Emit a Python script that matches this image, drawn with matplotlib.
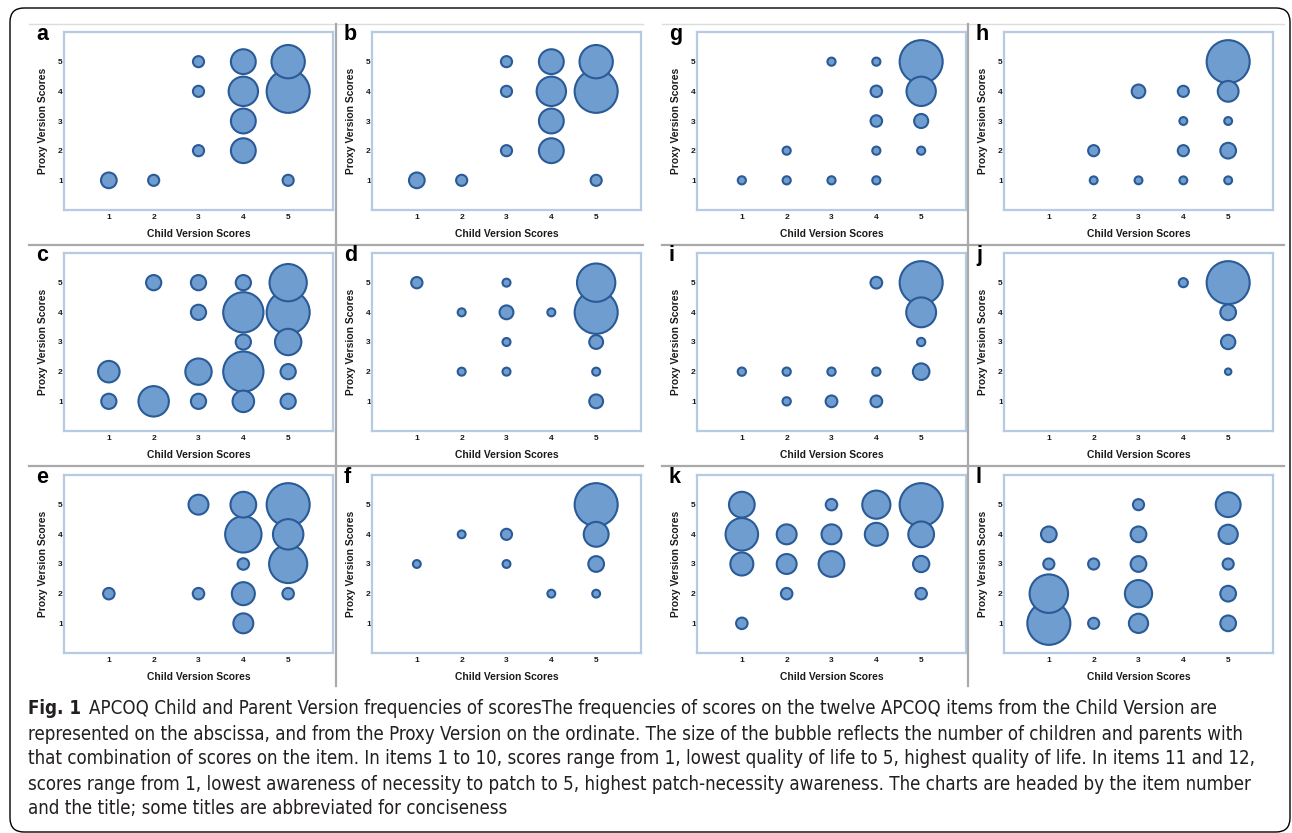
import numpy as np
import matplotlib.pyplot as plt
from matplotlib import font_manager as fm
from matplotlib.patches import FancyBboxPatch
from matplotlib.lines import Line2D
from matplotlib.transforms import IdentityTransform

# bubble data: child score (x), proxy score (y), number of pairs
child_a = [1, 2, 3, 3, 3, 4, 4, 4, 4, 5, 5, 5]
proxy_a = [1, 1, 2, 4, 5, 2, 3, 4, 5, 1, 4, 5]
count_a = [2, 1, 1, 1, 1, 5, 5, 7, 5, 1, 15, 9]

child_b = [1, 2, 3, 3, 3, 4, 4, 4, 4, 5, 5, 5]
proxy_b = [1, 1, 2, 4, 5, 2, 3, 4, 5, 1, 4, 5]
count_b = [2, 1, 1, 1, 1, 5, 5, 7, 5, 1, 15, 9]

child_c = [1, 1, 2, 2, 3, 3, 3, 3, 4, 4, 4, 4, 4, 5, 5, 5, 5, 5]
proxy_c = [1, 2, 1, 5, 1, 2, 4, 5, 1, 2, 3, 4, 5, 1, 2, 3, 4, 5]
count_c = [1, 2, 4, 1, 1, 3, 1, 1, 2, 7, 1, 7, 1, 1, 1, 3, 8, 6]

child_d = [1, 2, 2, 3, 3, 3, 3, 4, 5, 5, 5, 5, 5]
proxy_d = [5, 2, 4, 2, 3, 4, 5, 4, 1, 2, 3, 4, 5]
count_d = [2, 1, 1, 1, 1, 3, 1, 1, 3, 1, 3, 29, 23]

child_e = [1, 3, 3, 4, 4, 4, 4, 4, 5, 5, 5, 5]
proxy_e = [2, 2, 5, 1, 2, 3, 4, 5, 2, 3, 4, 5]
count_e = [1, 1, 3, 3, 4, 1, 10, 5, 1, 11, 7, 14]

child_f = [1, 2, 3, 3, 4, 5, 5, 5, 5]
proxy_f = [3, 4, 3, 4, 2, 2, 3, 4, 5]
count_f = [1, 1, 1, 2, 1, 1, 4, 10, 30]

child_g = [1, 2, 2, 3, 3, 4, 4, 4, 4, 4, 5, 5, 5, 5]
proxy_g = [1, 1, 2, 1, 5, 1, 2, 3, 4, 5, 2, 3, 4, 5]
count_g = [1, 1, 1, 1, 1, 1, 1, 2, 2, 1, 1, 3, 13, 28]

child_h = [2, 2, 3, 3, 4, 4, 4, 4, 5, 5, 5, 5, 5]
proxy_h = [1, 2, 1, 4, 1, 2, 3, 4, 1, 2, 3, 4, 5]
count_h = [1, 2, 1, 3, 1, 2, 1, 2, 1, 4, 1, 7, 30]

child_i = [1, 2, 2, 3, 3, 4, 4, 4, 5, 5, 5, 5]
proxy_i = [2, 1, 2, 1, 2, 1, 2, 5, 2, 3, 4, 5]
count_i = [1, 1, 1, 2, 1, 2, 1, 2, 4, 1, 13, 27]

child_j = [4, 5, 5, 5, 5]
proxy_j = [5, 2, 3, 4, 5]
count_j = [2, 1, 5, 6, 45]

child_k = [1, 1, 1, 1, 2, 2, 2, 3, 3, 3, 4, 4, 5, 5, 5, 5]
proxy_k = [1, 3, 4, 5, 2, 3, 4, 3, 4, 5, 4, 5, 2, 3, 4, 5]
count_k = [1, 4, 8, 5, 1, 3, 3, 5, 3, 1, 4, 6, 1, 2, 5, 14]

child_l = [1, 1, 1, 1, 2, 2, 3, 3, 3, 3, 3, 5, 5, 5, 5, 5]
proxy_l = [1, 2, 3, 4, 1, 3, 1, 2, 3, 4, 5, 1, 2, 3, 4, 5]
count_l = [15, 12, 1, 2, 1, 1, 3, 6, 2, 2, 1, 2, 2, 1, 3, 5]

ticks = [1, 2, 3, 4, 5]

caption_lines = [
    "APCOQ Child and Parent Version frequencies of scoresThe frequencies of scores on the twelve APCOQ items from the Child Version are",
    "represented on the abscissa, and from the Proxy Version on the ordinate. The size of the bubble reflects the number of children and parents with",
    "that combination of scores on the item. In items 1 to 10, scores range from 1, lowest quality of life to 5, highest quality of life. In items 11 and 12,",
    "scores range from 1, lowest awareness of necessity to patch to 5, highest patch-necessity awareness. The charts are headed by the item number",
    "and the title; some titles are abbreviated for conciseness",
]

W, H = 1292, 833
FILL = '#6f9dd0'
EDGE = '#2a5b97'
FRAME = '#b6cae3'
SEP = '#a9a9a9'
SMAX = 960.0  # marker area (pt^2) of the biggest bubble in each chart

plt.rcParams['font.family'] = ['Liberation Sans', 'DejaVu Sans']


def narrow_font():
    # look for a condensed sans face for the caption
    narrow = ('condensed', 'semi-condensed', 'extra-condensed', 'ultra-condensed')
    best = None
    for f in fm.fontManager.ttflist:
        if f.style != 'normal':
            continue
        if 'Narrow' in f.name or f.stretch in narrow:
            if f.name.startswith('Liberation'):
                return f.name, f.stretch
            if best is None:
                best = (f.name, f.stretch)
    return best if best else ('Liberation Sans', 'normal')


cap_family, cap_stretch = narrow_font()

fig = plt.figure(figsize=(W / 100, H / 100), dpi=100)
ident = IdentityTransform()


def fy(y):
    return H - y


# outer rounded frame
fig.add_artist(FancyBboxPatch((10, fy(832)), 1280, 824,
                              boxstyle="round,pad=0,rounding_size=14",
                              transform=ident, fill=False, ec='black', lw=1.0))

# separators between the charts
for x0, x1 in [(29, 643), (662, 1284)]:
    fig.add_artist(Line2D([x0, x1], [fy(24), fy(24)], transform=ident, color='#dcdcdc', lw=1.0))
    for yy in [245, 466]:
        fig.add_artist(Line2D([x0, x1], [fy(yy), fy(yy)], transform=ident, color=SEP, lw=1.6))
for xx in [336, 968]:
    fig.add_artist(Line2D([xx, xx], [fy(24), fy(686)], transform=ident, color=SEP, lw=1.6))

col_left = [64, 372, 697, 1004]
row_top = [32, 253, 475]
ax_w, ax_h = 269, 178

panels = [
    ('a', child_a, proxy_a, count_a, 0, 0),
    ('b', child_b, proxy_b, count_b, 0, 1),
    ('g', child_g, proxy_g, count_g, 0, 2),
    ('h', child_h, proxy_h, count_h, 0, 3),
    ('c', child_c, proxy_c, count_c, 1, 0),
    ('d', child_d, proxy_d, count_d, 1, 1),
    ('i', child_i, proxy_i, count_i, 1, 2),
    ('j', child_j, proxy_j, count_j, 1, 3),
    ('e', child_e, proxy_e, count_e, 2, 0),
    ('f', child_f, proxy_f, count_f, 2, 1),
    ('k', child_k, proxy_k, count_k, 2, 2),
    ('l', child_l, proxy_l, count_l, 2, 3),
]

for letter, cx, py, cnt, r, c in panels:
    left, top = col_left[c], row_top[r]
    ax = fig.add_axes([left / W, fy(top + ax_h) / H, ax_w / W, ax_h / H])
    cx = np.array(cx)
    py = np.array(py)
    cnt = np.array(cnt, dtype=float)
    order = np.argsort(-cnt, kind='stable')
    sizes = SMAX * cnt / cnt.max()
    ax.scatter(cx[order], py[order], s=sizes[order], c=FILL, edgecolors=EDGE,
               linewidths=1.5, zorder=3, clip_on=False)

    ax.set_xlim(0, 6)
    ax.set_ylim(0, 6)
    ax.set_xticks(ticks)
    ax.set_yticks(ticks)
    ax.tick_params(axis='x', length=0, labelsize=6, colors='#1a1a1a', pad=3.0)
    ax.tick_params(axis='y', length=0, labelsize=6, colors='#1a1a1a', pad=0.8)
    for lbl in ax.get_xticklabels() + ax.get_yticklabels():
        lbl.set_fontweight('bold')
    for sp in ax.spines.values():
        sp.set_color(FRAME)
        sp.set_linewidth(1.6)

    ax.set_xlabel('Child Version Scores', fontsize=7.4, fontweight='bold', color='#1a1a1a')
    ax.set_ylabel('Proxy Version Scores', fontsize=7.4, fontweight='bold', color='#1a1a1a')
    ax.xaxis.set_label_coords(0.5, -24 / ax_h)
    ax.xaxis.label.set_va('center')
    ax.yaxis.set_label_coords(-21 / ax_w, 0.5)
    ax.yaxis.label.set_va('center')

    fig.text((left - 28) / W, fy(top + 8) / H, letter, fontsize=15.5,
             fontweight='bold', ha='left', va='baseline')

# caption
renderer = fig.canvas.get_renderer()
line_y = [709, 734, 759, 784, 809]
cap_kw = dict(family=cap_family, stretch=cap_stretch, va='center', color='#231f20')
probe = fig.text(28 / W, fy(line_y[1]) / H, caption_lines[1], fontsize=12, **cap_kw)
wid = probe.get_window_extent(renderer).width
cap_size = min(12 * 1220 / wid, 14.0)
probe.set_fontsize(cap_size)

fig.text(28 / W, fy(line_y[0]) / H, "Fig. 1", fontsize=cap_size, fontweight='bold', **cap_kw)
fig.text(89 / W, fy(line_y[0]) / H, caption_lines[0], fontsize=cap_size, **cap_kw)
for k in [2, 3, 4]:
    fig.text(28 / W, fy(line_y[k]) / H, caption_lines[k], fontsize=cap_size, **cap_kw)

fig.savefig('out.png', dpi=100)
